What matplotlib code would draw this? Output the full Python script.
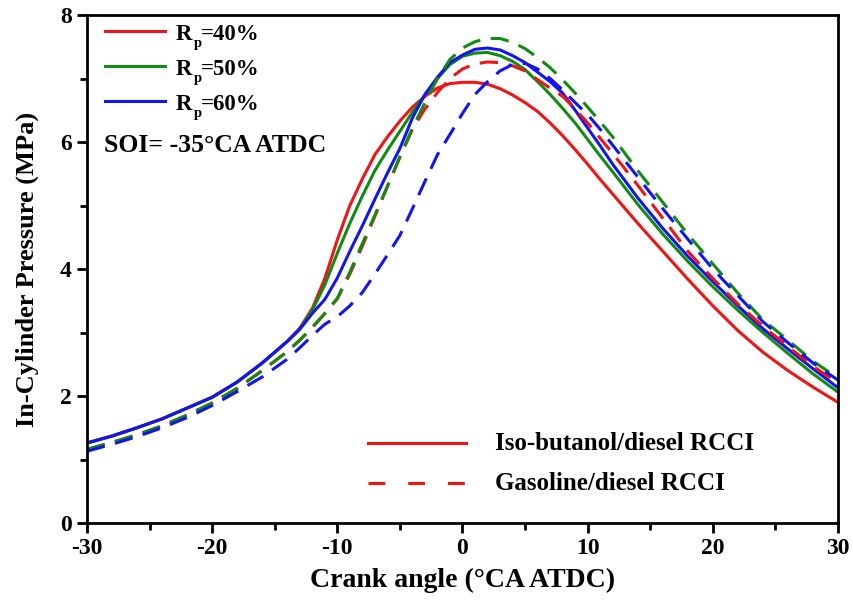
import matplotlib
matplotlib.use("Agg")
import matplotlib.pyplot as plt
from matplotlib.lines import Line2D
from matplotlib.ticker import MultipleLocator

plt.rcParams['font.family'] = ['Liberation Serif', 'DejaVu Serif']
plt.rcParams['axes.unicode_minus'] = False

crank = [-30, -28, -26, -24, -22, -20, -18, -16, -14, -13, -12, -11, -10, -9, -8, -7, -6, -5,
         -4, -3, -2, -1, 0, 1, 2, 3, 4, 5, 6, 7, 8, 9, 10, 11, 12, 14, 16, 18, 20, 22, 24, 26, 28, 30]

# Iso-butanol/diesel RCCI (solid)
iso_40 = [1.26, 1.37, 1.50, 1.64, 1.81, 1.98, 2.22, 2.52, 2.86, 3.07, 3.38, 3.85, 4.46, 5.00, 5.42, 5.80,
          6.08, 6.33, 6.55, 6.72, 6.85, 6.92, 6.94, 6.94, 6.91, 6.84, 6.74, 6.62, 6.48, 6.30, 6.10, 5.88,
          5.65, 5.41, 5.18, 4.72, 4.28, 3.84, 3.42, 3.03, 2.69, 2.40, 2.14, 1.90]
iso_50 = [1.26, 1.37, 1.50, 1.64, 1.81, 1.98, 2.22, 2.52, 2.86, 3.06, 3.35, 3.75, 4.25, 4.72, 5.15, 5.55,
          5.87, 6.17, 6.47, 6.74, 7.00, 7.22, 7.35, 7.40, 7.41, 7.36, 7.27, 7.14, 6.95, 6.75, 6.53, 6.30,
          6.04, 5.78, 5.53, 5.02, 4.55, 4.12, 3.72, 3.35, 3.00, 2.67, 2.35, 2.06]
iso_60 = [1.26, 1.37, 1.50, 1.64, 1.81, 1.98, 2.22, 2.52, 2.86, 3.05, 3.30, 3.52, 3.86, 4.28, 4.68, 5.10,
          5.51, 5.90, 6.38, 6.75, 7.02, 7.25, 7.37, 7.46, 7.48, 7.45, 7.36, 7.25, 7.10, 6.95, 6.77, 6.50,
          6.22, 5.94, 5.65, 5.12, 4.64, 4.20, 3.80, 3.42, 3.06, 2.74, 2.43, 2.13]

# Gasoline/diesel RCCI (dashed)
gas_40 = [1.16, 1.27, 1.39, 1.53, 1.70, 1.89, 2.12, 2.40, 2.70, 2.88, 3.08, 3.30, 3.53, 3.92, 4.36, 4.83,
          5.30, 5.76, 6.20, 6.52, 6.78, 7.00, 7.15, 7.23, 7.26, 7.25, 7.20, 7.12, 6.98, 6.85, 6.72, 6.52,
          6.30, 6.06, 5.82, 5.32, 4.80, 4.28, 3.85, 3.45, 3.10, 2.78, 2.47, 2.20]
gas_50 = [1.16, 1.27, 1.39, 1.53, 1.70, 1.89, 2.12, 2.40, 2.70, 2.88, 3.08, 3.30, 3.54, 3.95, 4.40, 4.85,
          5.30, 5.77, 6.22, 6.62, 7.00, 7.30, 7.48, 7.58, 7.63, 7.63, 7.57, 7.47, 7.33, 7.17, 6.98, 6.77,
          6.55, 6.32, 6.08, 5.55, 5.05, 4.55, 4.08, 3.62, 3.20, 2.88, 2.55, 2.28]
gas_60 = [1.13, 1.24, 1.36, 1.50, 1.66, 1.85, 2.07, 2.30, 2.58, 2.76, 2.95, 3.13, 3.25, 3.42, 3.63, 3.92,
          4.22, 4.53, 4.95, 5.38, 5.80, 6.12, 6.45, 6.75, 6.95, 7.12, 7.22, 7.24, 7.15, 7.00, 6.82, 6.62,
          6.43, 6.20, 5.95, 5.45, 4.95, 4.47, 4.00, 3.58, 3.17, 2.84, 2.52, 2.25]

ratio_values = ['=40%', '=50%', '=60%']
colors = ['#f01414', '#138a13', '#1414f0']
fuel_labels = ['Iso-butanol/diesel RCCI', 'Gasoline/diesel RCCI']

W, H = 854, 600
L, R, T, B = 87, 838, 15, 523
fig = plt.figure(figsize=(W/100, H/100), dpi=100)
ax = fig.add_axes([L/W, 1-B/H, (R-L)/W, (B-T)/H])

def axc(px, py):
    return (px - L) / (R - L), (B - py) / (B - T)

lw = 2.2
dash = (6, 3.5)
for ys, c in zip([iso_40, iso_50, iso_60], colors):
    ax.plot(crank, ys, color=c, lw=lw, solid_capstyle='butt')
for ys, c in zip([gas_40, gas_50, gas_60], colors):
    ax.plot(crank, ys, color=c, lw=lw, linestyle=(0, dash), dash_capstyle='butt')

ax.set_xlim(-30, 30)
ax.set_ylim(0, 8)
ax.xaxis.set_major_locator(MultipleLocator(10))
ax.xaxis.set_minor_locator(MultipleLocator(5))
ax.yaxis.set_major_locator(MultipleLocator(2))
ax.yaxis.set_minor_locator(MultipleLocator(1))
ax.tick_params(which='both', direction='out', width=2.0, top=False, right=False)
ax.tick_params(which='major', length=7, labelsize=17, pad=4)
ax.tick_params(which='minor', length=5)
for lab in ax.get_xticklabels() + ax.get_yticklabels():
    lab.set_fontweight('bold')
for s in ax.spines.values():
    s.set_linewidth(2.0)

ax.set_xlabel('Crank angle (°CA ATDC)', fontsize=20, fontweight='bold', labelpad=6)
ax.set_ylabel('In-Cylinder Pressure (MPa)', fontsize=19, fontweight='bold', labelpad=15)

# legend 1 (ratio of premixed fuel), R with lowered subscript p
for py, c, val in zip([31, 66, 101], colors, ratio_values):
    x0, y0 = axc(105, py)
    x1, _ = axc(165, py)
    ax.add_line(Line2D([x0, x1], [y0, y0], color=c, lw=lw, transform=ax.transAxes))
    bx, by = axc(176, py + 9)
    ax.text(bx, by, 'R', transform=ax.transAxes, fontsize=16.5, fontweight='bold',
            va='baseline', ha='left')
    sx_, sy_ = axc(194, py + 16)
    ax.text(sx_, sy_, 'p', transform=ax.transAxes, fontsize=10.5, fontweight='bold',
            va='baseline', ha='left')
    vx, vy = axc(201, py + 9)
    ax.text(vx, vy, val, transform=ax.transAxes, fontsize=16.5, fontweight='bold',
            va='baseline', ha='left')

sx, sy = axc(104, 146)
ax.text(sx, sy, 'SOI= -35°CA ATDC', transform=ax.transAxes, fontsize=18.5,
        fontweight='bold', va='center', ha='left')

# legend 2 (fuel type)
leg_dash = (0, (5.5, 7.5))
for py, ls, lab in zip([443, 483], ['-', leg_dash], fuel_labels):
    x0, y0 = axc(368, py)
    x1, _ = axc(466, py)
    ax.add_line(Line2D([x0, x1], [y0, y0], color=colors[0], lw=lw, linestyle=ls,
                       dash_capstyle='butt', transform=ax.transAxes))
    tx, _ = axc(495, py)
    ax.text(tx, y0, lab, transform=ax.transAxes, fontsize=18, fontweight='bold',
            va='center', ha='left')

fig.savefig('out.png', dpi=100)
